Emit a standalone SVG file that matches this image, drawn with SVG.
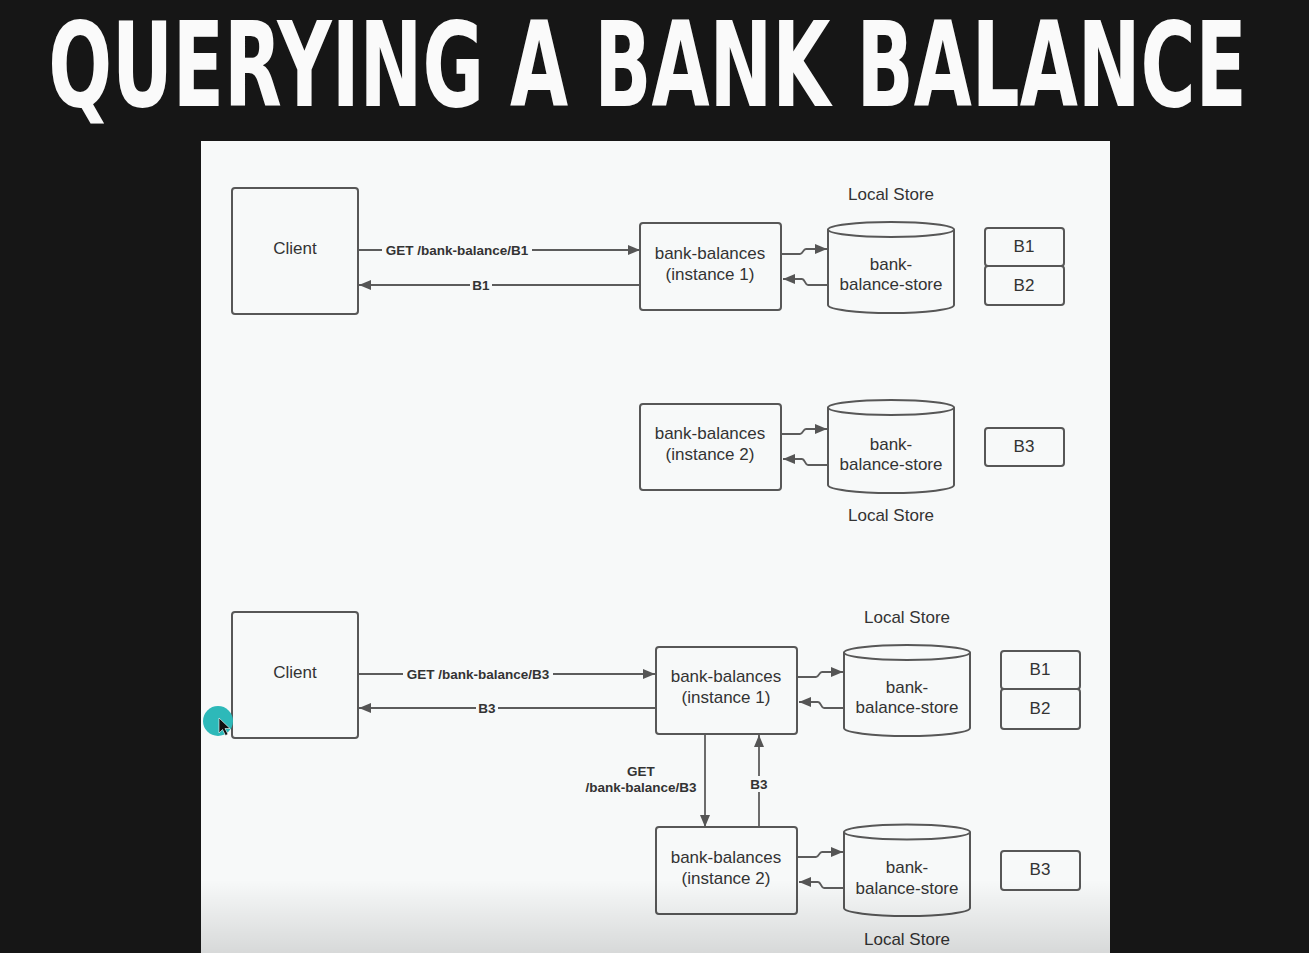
<svg xmlns="http://www.w3.org/2000/svg" width="1309" height="953" viewBox="0 0 1309 953">
<style>
.box{fill:none;stroke:#575757;stroke-width:2}
.cyl{fill:#f7f9f9;stroke:#575757;stroke-width:2}
.ln{fill:none;stroke:#5c5c5c;stroke-width:1.8}
.t{font-family:"Liberation Sans",Arial,sans-serif;font-size:17px;fill:#333;text-anchor:middle;dominant-baseline:central}
.b{font-family:"Liberation Sans",Arial,sans-serif;font-size:13.5px;font-weight:bold;fill:#333;text-anchor:middle;dominant-baseline:central}
.bg{fill:#f7f9f9}
</style>
<defs>
<marker id="ah" markerUnits="userSpaceOnUse" markerWidth="14" markerHeight="12" refX="12" refY="6" orient="auto">
<path d="M0,1 L12,6 L0,11 Z" fill="#555"/>
</marker>
<linearGradient id="shade" x1="0" y1="0" x2="0" y2="1">
<stop offset="0" stop-color="#000" stop-opacity="0"/>
<stop offset="1" stop-color="#000" stop-opacity="0.13"/>
</linearGradient>
</defs>
<rect x="0" y="0" width="1309" height="953" fill="#161616"/>
<text transform="translate(647.5,106) scale(0.713,1)" x="0" y="0" font-family="'DejaVu Sans Condensed','DejaVu Sans',sans-serif" font-weight="bold" font-size="117" fill="#fafafa" text-anchor="middle">QUERYING A BANK BALANCE</text>
<rect x="201" y="141" width="909" height="812" fill="#f7f9f9"/>

<g id="connectors">
<path class="ln" d="M358,250 L640,250" marker-end="url(#ah)"/>
<path class="ln" d="M640,285 L359,285" marker-end="url(#ah)"/>
<path class="ln" d="M781,254 L800,254 C803,254 803,249 806,249 L827,249" marker-end="url(#ah)"/>
<path class="ln" d="M828,285 L808,285 C805,285 805,279 802,279 L783,279" marker-end="url(#ah)"/>
<path class="ln" d="M781,434 L800,434 C803,434 803,429 806,429 L827,429" marker-end="url(#ah)"/>
<path class="ln" d="M828,465 L808,465 C805,465 805,459 802,459 L783,459" marker-end="url(#ah)"/>
<path class="ln" d="M358,674 L655,674" marker-end="url(#ah)"/>
<path class="ln" d="M655,708 L359,708" marker-end="url(#ah)"/>
<path class="ln" d="M797,677 L816,677 C819,677 819,672 822,672 L843,672" marker-end="url(#ah)"/>
<path class="ln" d="M844,708 L824,708 C821,708 821,702 818,702 L799,702" marker-end="url(#ah)"/>
<path class="ln" d="M797,857 L816,857 C819,857 819,852 822,852 L843,852" marker-end="url(#ah)"/>
<path class="ln" d="M844,888 L824,888 C821,888 821,882 818,882 L799,882" marker-end="url(#ah)"/>
<path class="ln" d="M705,734 L705,827" marker-end="url(#ah)"/>
<path class="ln" d="M759,827 L759,735" marker-end="url(#ah)"/>
<rect class="bg" x="382" y="242" width="150" height="16"/>
<text class="b" x="457" y="250">GET /bank-balance/B1</text>
<rect class="bg" x="470" y="277" width="22" height="16"/>
<text class="b" x="481" y="285">B1</text>
<rect class="bg" x="403" y="666" width="150" height="16"/>
<text class="b" x="478" y="674">GET /bank-balance/B3</text>
<rect class="bg" x="476" y="700" width="22" height="16"/>
<text class="b" x="487" y="708">B3</text>
<text class="b" x="641" y="771">GET</text>
<text class="b" x="641" y="787">/bank-balance/B3</text>
<rect class="bg" x="748" y="776" width="22" height="16"/>
<text class="b" x="759" y="784">B3</text>
</g>

<g id="client1">
<rect class="box" x="232" y="188" width="126" height="126" rx="3"/>
<text class="t" x="295" y="248">Client</text>
</g>
<g id="bb1">
<rect class="box" x="640" y="223" width="141" height="87" rx="3"/>
<text class="t" x="710" y="253">bank-balances</text>
<text class="t" x="710" y="274">(instance 1)</text>
</g>
<g id="store1">
<path class="cyl" d="M828,229.5 A63,7.5 0 0 1 954,229.5 L954,305 A63,8 0 0 1 828,305 Z"/>
<path class="ln" style="stroke:#575757;stroke-width:2" d="M828,229.5 A63,7.5 0 0 0 954,229.5"/>
<text class="t" x="891" y="264">bank-</text>
<text class="t" x="891" y="284">balance-store</text>
<text class="t" x="891" y="194">Local Store</text>
</g>
<g id="b1a"><rect class="box" x="985" y="228" width="79" height="38" rx="3"/><text class="t" x="1024" y="246">B1</text></g>
<g id="b2a"><rect class="box" x="985" y="266" width="79" height="39" rx="3"/><text class="t" x="1024" y="285">B2</text></g>

<g id="bb2">
<rect class="box" x="640" y="404" width="141" height="86" rx="3"/>
<text class="t" x="710" y="433">bank-balances</text>
<text class="t" x="710" y="454">(instance 2)</text>
</g>
<g id="store2">
<path class="cyl" d="M828,407.5 A63,7.5 0 0 1 954,407.5 L954,485 A63,8 0 0 1 828,485 Z"/>
<path class="ln" style="stroke:#575757;stroke-width:2" d="M828,407.5 A63,7.5 0 0 0 954,407.5"/>
<text class="t" x="891" y="444">bank-</text>
<text class="t" x="891" y="464">balance-store</text>
<text class="t" x="891" y="515">Local Store</text>
</g>
<g id="b3a"><rect class="box" x="985" y="428" width="79" height="38" rx="3"/><text class="t" x="1024" y="446">B3</text></g>

<g id="client2">
<rect class="box" x="232" y="612" width="126" height="126" rx="3"/>
<text class="t" x="295" y="672">Client</text>
</g>
<g id="bb3">
<rect class="box" x="656" y="647" width="141" height="87" rx="3"/>
<text class="t" x="726" y="676">bank-balances</text>
<text class="t" x="726" y="697">(instance 1)</text>
</g>
<g id="store3">
<path class="cyl" d="M844,652.5 A63,7.5 0 0 1 970,652.5 L970,728 A63,8 0 0 1 844,728 Z"/>
<path class="ln" style="stroke:#575757;stroke-width:2" d="M844,652.5 A63,7.5 0 0 0 970,652.5"/>
<text class="t" x="907" y="687">bank-</text>
<text class="t" x="907" y="707">balance-store</text>
<text class="t" x="907" y="617">Local Store</text>
</g>
<g id="b1b"><rect class="box" x="1001" y="651" width="79" height="38" rx="3"/><text class="t" x="1040" y="669">B1</text></g>
<g id="b2b"><rect class="box" x="1001" y="689" width="79" height="40" rx="3"/><text class="t" x="1040" y="708">B2</text></g>

<g id="bb4">
<rect class="box" x="656" y="827" width="141" height="87" rx="3"/>
<text class="t" x="726" y="857">bank-balances</text>
<text class="t" x="726" y="878">(instance 2)</text>
</g>
<g id="store4">
<path class="cyl" d="M844,832 A63,7.5 0 0 1 970,832 L970,908 A63,8 0 0 1 844,908 Z"/>
<path class="ln" style="stroke:#575757;stroke-width:2" d="M844,832 A63,7.5 0 0 0 970,832"/>
<text class="t" x="907" y="867">bank-</text>
<text class="t" x="907" y="888">balance-store</text>
<text class="t" x="907" y="939">Local Store</text>
</g>
<g id="b3b"><rect class="box" x="1001" y="851" width="79" height="39" rx="3"/><text class="t" x="1040" y="869">B3</text></g>

<rect x="201" y="880" width="909" height="73" fill="url(#shade)"/>
<g id="cursor">
<circle cx="218" cy="721" r="15" fill="#2db9b9"/>
<path d="M219,718 L219,733 L222.5,729.5 L225.5,735.5 L228,734.3 L225,728.5 L230,728.5 Z" fill="#111" stroke="#fff" stroke-width="0.6"/>
</g>
</svg>
